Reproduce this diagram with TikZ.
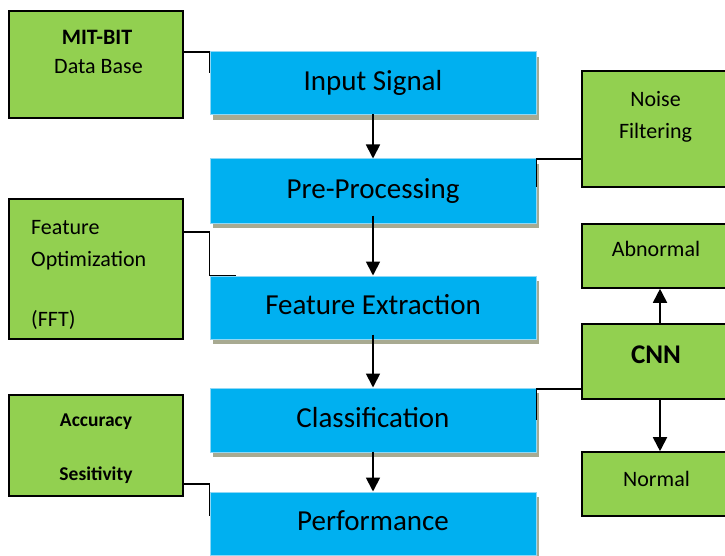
\documentclass[tikz,border=0pt]{standalone}
\usepackage{fontspec}
\setmainfont{Carlito}
\usetikzlibrary{arrows.meta,shadows,calc}
\definecolor{bluebox}{HTML}{00B0F0}
\definecolor{blueedge}{HTML}{8FD8F6}
\definecolor{greenbox}{HTML}{92D050}
\definecolor{shadowcol}{HTML}{A8AA91}
\tikzset{
  bluestep/.style={rectangle, fill=bluebox, draw=blueedge, line width=1pt, inner sep=0pt,
    minimum width=326pt, font=\fontsize{29}{32}\selectfont, text height=18pt, text depth=3.5pt,
    drop shadow={shadow xshift=3pt, shadow yshift=-5pt, fill=shadowcol, opacity=1}},
  greenbox/.style={rectangle, fill=greenbox, draw=black, line width=1.6pt, inner sep=0pt},
  gtext/.style={inner sep=0pt, font=\fontsize{22}{26}\selectfont},
  conn/.style={draw=black, line width=1.8pt},
  arr/.style={draw=black, line width=1.8pt, -{Triangle[width=14pt,length=14pt]}}
}
\begin{document}
\begin{tikzpicture}[x=1pt,y=-1pt]
\clip (0,0) rectangle (725,556);
\fill[white] (0,0) rectangle (725,556);
% blue process boxes
\node[bluestep, minimum height=63pt] (inp) at (373,83.5) {Input Signal};
\node[bluestep, minimum height=64pt] (pre) at (373,191) {Pre-Processing};
\node[bluestep, minimum height=63pt] (fext) at (373,307.5) {Feature Extraction};
\node[bluestep, minimum height=64pt] (cls) at (373,420) {Classification};
\node[bluestep, minimum height=63pt] (perf) at (373,523.5) {Performance};
% green boxes
\node[greenbox, minimum width=174pt, minimum height=107pt] (mit) at (96,64.5) {};
\node[greenbox, minimum width=156pt, minimum height=116pt] (noise) at (660,129) {};
\node[greenbox, minimum width=174pt, minimum height=140pt] (fopt) at (96,269) {};
\node[greenbox, minimum width=174pt, minimum height=101pt] (acc) at (96,445.5) {};
\node[greenbox, minimum width=156pt, minimum height=64pt] (abn) at (660,256) {};
\node[greenbox, minimum width=156pt, minimum height=75pt] (cnn) at (660,361.5) {};
\node[greenbox, minimum width=156pt, minimum height=64pt] (norm) at (660,484) {};
% green texts
\node[gtext, anchor=base] (tmit1) at (97,45) {\bfseries MIT-BIT};
\node[gtext, anchor=base] (tmit2) at (98.5,74) {Data Base};
\node[gtext, anchor=base] (tnoise1) at (655.5,106.5) {Noise};
\node[gtext, anchor=base] (tnoise2) at (655.5,138.3) {Filtering};
\node[gtext, anchor=base west] (tfopt1) at (31,234) {Feature};
\node[gtext, anchor=base west] (tfopt2) at (31,266) {Optimization};
\node[gtext, anchor=base west] (tfopt3) at (31,326) {(FFT)};
\node[gtext, anchor=base, font=\fontsize{19.5}{23}\selectfont\bfseries] (tacc1) at (96,426.7) {Accuracy};
\node[gtext, anchor=base, font=\fontsize{19.5}{23}\selectfont\bfseries] (tacc2) at (96,480) {Sesitivity};
\node[gtext, anchor=base] (tabn) at (656,256.7) {Abnormal};
\node[gtext, anchor=base, font=\fontsize{27}{30}\selectfont\bfseries] (tcnn) at (656,363.3) {CNN};
\node[gtext, anchor=base] (tnorm) at (656.5,486.7) {Normal};
% arrows between process boxes
\draw[arr] ([yshift=1pt]inp.south) -- (pre.north);
\draw[arr] ([yshift=8pt]pre.south) -- (fext.north);
\draw[arr] ([yshift=5pt]fext.south) -- (cls.north);
\draw[arr] ([yshift=1pt]cls.south) -- (perf.north);
% CNN outputs
\draw[arr] (cnn.north) -- (abn.south);
\draw[arr] (cnn.south) -- (norm.north);
% side connectors
\draw[conn] (mit.east |- 0,52) -| (inp.west |- 0,73);
\draw[conn] (noise.west |- 0,159) -| (pre.east |- 0,187);
\draw[conn] (fopt.east |- 0,232) -| (fext.north west) -- ([xshift=26pt]fext.north west);
\draw[conn] (acc.east |- 0,484) -| (perf.west |- 0,516);
\draw[conn] (cnn.west |- 0,389) -| (cls.east |- 0,420);
\end{tikzpicture}
\end{document}
